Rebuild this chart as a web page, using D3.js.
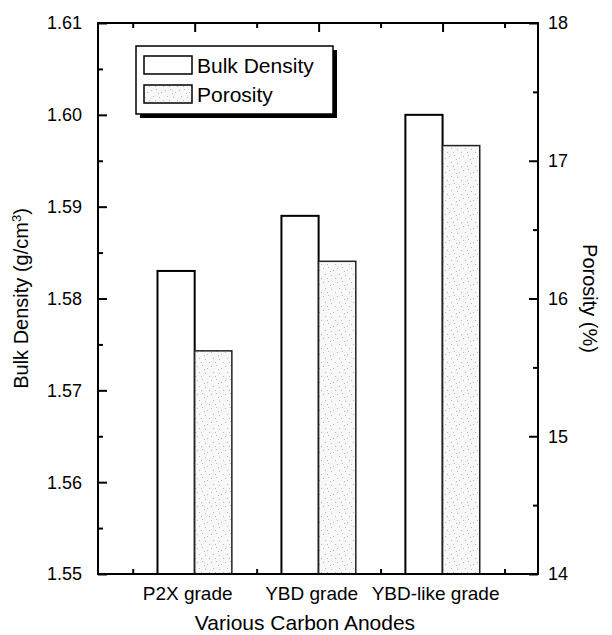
<!DOCTYPE html>
<html>
<head>
<meta charset="utf-8">
<script src="https://cdn.jsdelivr.net/npm/d3@7"></script>
<style>
  body { margin: 0; background: #fff; }
  text { font-family: "Liberation Sans", Arial, sans-serif; fill: #000; }
</style>
</head>
<body>
<svg id="chart" width="612" height="635"></svg>
<script>
// Data
const categories = ["P2X grade", "YBD grade", "YBD-like grade"];
const bulkDensity = [1.583, 1.589, 1.600];   // g/cm3, left axis
const porosity = [15.62, 16.27, 17.11];      // %, right axis
const leftTicks = [1.55, 1.56, 1.57, 1.58, 1.59, 1.60, 1.61];
const rightTicks = [14, 15, 16, 17, 18];

const width = 612;
const height = 635;
const margin = { top: 23, right: 74, bottom: 61, left: 98 };

const svg = d3.select("#chart");

// scales
const x = d3.scaleLinear()
  .domain([0.22, 3.77])
  .range([margin.left, width - margin.right]);

const yLeft = d3.scaleLinear()
  .domain([1.55, 1.61])
  .range([height - margin.bottom, margin.top]);

const yRight = d3.scaleLinear()
  .domain([14, 18])
  .range([height - margin.bottom, margin.top]);

const barW = 0.3; // in category units

// stipple pattern for porosity bars
const defs = svg.append("defs");
const pat = defs.append("pattern")
  .attr("id", "stipple")
  .attr("patternUnits", "userSpaceOnUse")
  .attr("width", 14)
  .attr("height", 14);
pat.append("rect").attr("width", 14).attr("height", 14).attr("fill", "#f8f8f8");
[[1, 2], [6, 1], [11, 4], [3, 8], [9, 9], [13, 12], [5, 12], [8, 5]].forEach(p => {
  pat.append("rect")
    .attr("x", p[0]).attr("y", p[1])
    .attr("width", 1).attr("height", 1)
    .attr("fill", "#b8b8b8");
});

// bars
const data = categories.map((c, i) => ({ c: c, i: i + 1, bd: bulkDensity[i], por: porosity[i] }));

svg.selectAll("rect.bulk")
  .data(data)
  .enter().append("rect")
  .attr("class", "bulk")
  .attr("x", d => x(d.i - barW))
  .attr("y", d => yLeft(d.bd))
  .attr("width", d => x(d.i) - x(d.i - barW))
  .attr("height", d => yLeft(1.55) - yLeft(d.bd))
  .attr("fill", "#fff")
  .attr("stroke", "#000")
  .attr("stroke-width", 2);

svg.selectAll("rect.por")
  .data(data)
  .enter().append("rect")
  .attr("class", "por")
  .attr("x", d => x(d.i))
  .attr("y", d => yRight(d.por))
  .attr("width", d => x(d.i + barW) - x(d.i))
  .attr("height", d => yRight(14) - yRight(d.por))
  .attr("fill", "url(#stipple)")
  .attr("stroke", "#222")
  .attr("stroke-width", 1.5);

// axes (ticks point inward)
const bottomY = height - margin.bottom;
const xTickVals = d3.range(0.5, 3.51, 0.5);

svg.append("g")
  .attr("transform", `translate(0,${margin.top})`)
  .call(d3.axisBottom(x).tickValues(xTickVals).tickSize(0).tickFormat(""))
  .call(g => g.selectAll(".tick line").attr("y2", d => Number.isInteger(d) ? 9 : 5).attr("stroke-width", 2));

svg.append("g")
  .attr("transform", `translate(0,${bottomY})`)
  .call(d3.axisTop(x).tickValues(xTickVals.filter(v => !Number.isInteger(v))).tickSize(5).tickFormat(""))
  .call(g => g.selectAll(".tick line").attr("stroke-width", 2));

// category labels (sit a little left of the bar pair centre in the original)
svg.selectAll("text.cat")
  .data(data)
  .enter().append("text")
  .attr("class", "cat")
  .attr("x", d => x(d.i) - 7)
  .attr("y", bottomY + 26)
  .attr("text-anchor", "middle")
  .style("font-size", "19px")
  .text(d => d.c);

const leftMinor = d3.range(1.555, 1.61, 0.01);
svg.append("g")
  .attr("transform", `translate(${margin.left},0)`)
  .call(d3.axisRight(yLeft).tickValues(leftMinor).tickSize(5).tickFormat(""))
  .call(g => g.selectAll(".tick line").attr("stroke-width", 2));
svg.append("g")
  .attr("transform", `translate(${margin.left},0)`)
  .call(d3.axisRight(yLeft).tickValues(leftTicks).tickSize(9).tickFormat(""))
  .call(g => g.selectAll(".tick line").attr("stroke-width", 2));
svg.selectAll("text.ly")
  .data(leftTicks)
  .enter().append("text")
  .attr("x", margin.left - 16)
  .attr("y", d => yLeft(d))
  .attr("dy", "0.36em")
  .attr("text-anchor", "end")
  .style("font-size", "18px")
  .text(d => d3.format(".2f")(d));

const rightX = width - margin.right;
const rightMinor = d3.range(14.5, 18, 1);
svg.append("g")
  .attr("transform", `translate(${rightX},0)`)
  .call(d3.axisLeft(yRight).tickValues(rightMinor).tickSize(5).tickFormat(""))
  .call(g => g.selectAll(".tick line").attr("stroke-width", 2));
svg.append("g")
  .attr("transform", `translate(${rightX},0)`)
  .call(d3.axisLeft(yRight).tickValues(rightTicks).tickSize(9).tickFormat(""))
  .call(g => g.selectAll(".tick line").attr("stroke-width", 2));
svg.selectAll("text.ry")
  .data(rightTicks)
  .enter().append("text")
  .attr("x", rightX + 10)
  .attr("y", d => yRight(d))
  .attr("dy", "0.36em")
  .style("font-size", "18px")
  .text(d => d);

// frame
svg.append("rect")
  .attr("x", margin.left)
  .attr("y", margin.top)
  .attr("width", rightX - margin.left)
  .attr("height", bottomY - margin.top)
  .attr("fill", "none")
  .attr("stroke", "#000")
  .attr("stroke-width", 2);
svg.selectAll(".domain").remove();

// axis titles
svg.append("text")
  .attr("transform", `translate(28,${(margin.top + bottomY) / 2}) rotate(-90)`)
  .attr("text-anchor", "middle")
  .style("font-size", "20px")
  .html('Bulk Density (g/cm<tspan baseline-shift="super" font-size="13px">3</tspan>)');

svg.append("text")
  .attr("transform", `translate(583,${(margin.top + bottomY) / 2}) rotate(90)`)
  .attr("text-anchor", "middle")
  .style("font-size", "20px")
  .text("Porosity (%)");

svg.append("text")
  .attr("x", 305)
  .attr("y", 630)
  .attr("text-anchor", "middle")
  .style("font-size", "21px")
  .text("Various Carbon Anodes");

// legend
const lg = svg.append("g").attr("transform", "translate(136,46)");
lg.append("rect").attr("x", 4).attr("y", 4).attr("width", 197).attr("height", 68).attr("fill", "#000");
lg.append("rect").attr("width", 197).attr("height", 68).attr("fill", "#fff").attr("stroke", "#000").attr("stroke-width", 1.5);
const legendItems = [
  { label: "Bulk Density", fill: "#fff" },
  { label: "Porosity", fill: "url(#stipple)" }
];
legendItems.forEach((it, k) => {
  lg.append("rect")
    .attr("x", 8).attr("y", 10 + k * 29)
    .attr("width", 48).attr("height", 18)
    .attr("fill", it.fill)
    .attr("stroke", "#000").attr("stroke-width", 1.5);
  lg.append("text")
    .attr("x", 61).attr("y", 19 + k * 29)
    .attr("dy", "0.36em")
    .style("font-size", "21px")
    .text(it.label);
});
</script>
</body>
</html>
